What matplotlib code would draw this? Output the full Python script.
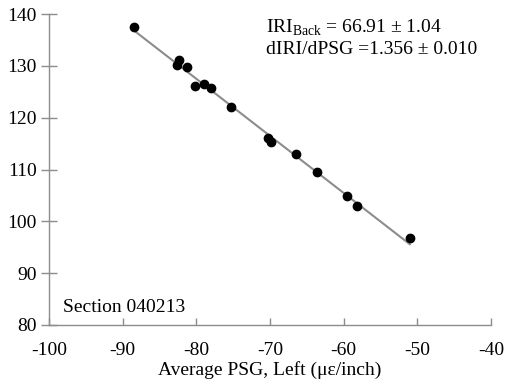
import numpy as np
import matplotlib
matplotlib.use("Agg")
import matplotlib.pyplot as plt

plt.rcParams['font.family'] = ['Liberation Serif', 'DejaVu Serif']
plt.rcParams['mathtext.fontset'] = 'custom'
plt.rcParams['mathtext.rm'] = 'Liberation Serif'

# data
psg = [-88.5, -82.6, -82.4, -81.3, -80.2, -79.0, -78.0, -75.3,
       -70.3, -69.8, -66.4, -63.6, -59.6, -58.2, -51.0]
iri = [137.5, 130.2, 131.1, 129.8, 126.1, 126.5, 125.7, 122.0,
       116.0, 115.3, 112.9, 109.6, 104.9, 102.9, 96.8]
xticks = [-100, -90, -80, -70, -60, -50, -40]
yticks = [80, 90, 100, 110, 120, 130, 140]

grey = '#8c8c8c'
fs = 14

fig = plt.figure(figsize=(5.05, 3.79), dpi=100)
ax = fig.add_axes([0.097, 0.1425, 0.875, 0.8205])

# fitted line
k, b = np.polyfit(psg, iri, 1)
xl = np.array([min(psg), max(psg)])
ax.plot(xl, k * xl + b, color=grey, lw=1.5, zorder=1)
ax.plot(psg, iri, 'o', color='black', ms=6, zorder=2)

ax.set_xlim(-100, -40)
ax.set_ylim(80, 140)
ax.set_xticks(xticks)
ax.set_yticks(yticks)
ax.set_xticklabels([str(t) for t in xticks])

for s in ['top', 'right']:
    ax.spines[s].set_visible(False)
for s in ['left', 'bottom']:
    ax.spines[s].set_color(grey)
    ax.spines[s].set_linewidth(1.0)

ax.tick_params(axis='y', direction='inout', length=11.5, width=1.0, color=grey,
               labelsize=fs, pad=3)
ax.tick_params(axis='x', direction='in', length=5, width=1.0, color=grey,
               labelsize=fs, pad=12)

ax.set_xlabel('Average PSG, Left (\u03bc\u03b5/inch)', fontsize=fs, labelpad=2)

ax.text(-70.55, 139.3, r'IRI$_{\mathrm{Back}}$ = 66.91 $\pm$ 1.04', fontsize=fs,
        va='top', ha='left')
ax.text(-70.55, 134.8, 'dIRI/dPSG =1.356 \u00b1 0.010', fontsize=fs,
        va='top', ha='left')
ax.text(-98.1, 82.6, 'Section 040213', fontsize=fs, va='baseline', ha='left')

fig.savefig('out.png', dpi=100)
